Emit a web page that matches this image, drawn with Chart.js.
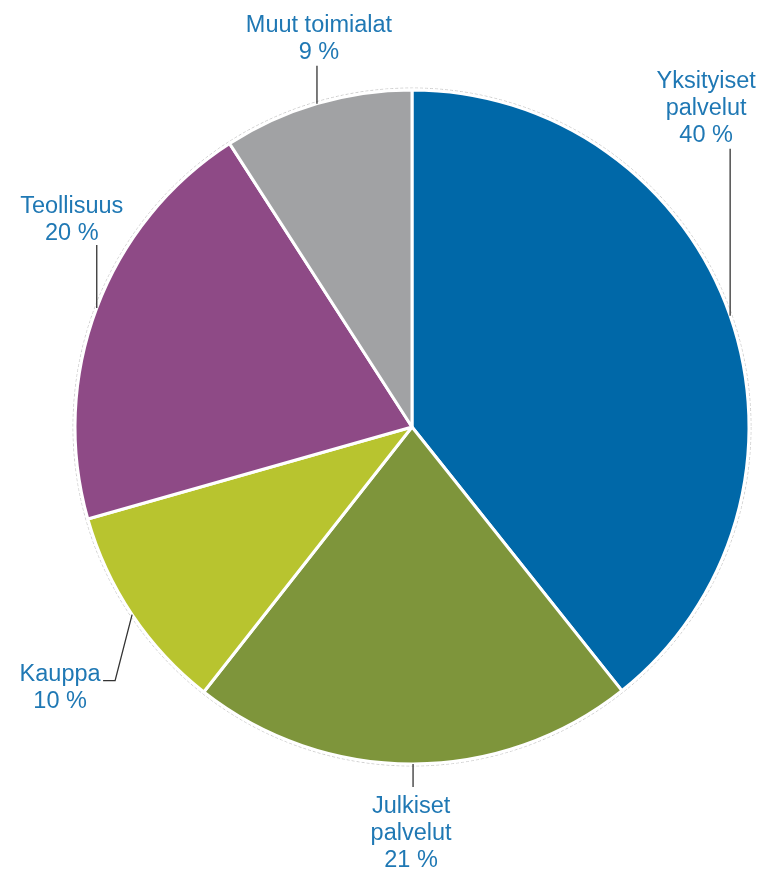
<!DOCTYPE html>
<html>
<head>
<meta charset="utf-8">
<script src="https://cdn.jsdelivr.net/npm/chart.js@4/dist/chart.umd.min.js"></script>
<style>
  html, body { margin: 0; padding: 0; background: #fff; }
  #wrap { width: 761px; height: 873px; position: relative; }
</style>
</head>
<body>
<div id="wrap"><canvas id="chart"></canvas></div>
<script>
const categories = [
  ["Yksityiset", "palvelut"],
  ["Julkiset", "palvelut"],
  ["Kauppa"],
  ["Teollisuus"],
  ["Muut toimialat"],
];
const shares = [39.3, 21.3, 10.0, 20.3, 9.1];
const shareLabels = ["40 %", "21 %", "10 %", "20 %", "9 %"];
const sliceColors = ["#0068a8", "#7e953b", "#b8c42f", "#8e4a86", "#a1a2a4"];

// where each label sits relative to the point on the rim at the slice's mid-angle
const labelLayout = [
  { leader: [[0, -167]], text: [-24, -234] },
  { leader: [[0, 23]], text: [-2, 43] },
  { leader: [[-17, 66], [-29, 66]], text: [-72, 60] },
  { leader: [[0, -63]], text: [-25, -101] },
  { leader: [[0, -38]], text: [2, -78] },
];

const labelColor = "#1f78b4";
const lineHeight = 27;

const pieLabels = {
  id: "pieLabels",
  beforeDatasetsDraw(chart) {
    const arc = chart.getDatasetMeta(0).data[0];
    if (!arc) return;
    const ctx = chart.ctx;
    ctx.save();
    ctx.strokeStyle = "#cfcfcf";
    ctx.lineWidth = 1;
    ctx.setLineDash([3, 2]);
    ctx.beginPath();
    ctx.arc(arc.x, arc.y, arc.outerRadius + 2, 0, Math.PI * 2);
    ctx.stroke();
    ctx.restore();
  },
  afterDatasetsDraw(chart) {
    const ctx = chart.ctx;
    const meta = chart.getDatasetMeta(0);
    ctx.save();
    meta.data.forEach((arc, i) => {
      const mid = (arc.startAngle + arc.endAngle) / 2;
      const ax = arc.x + Math.cos(mid) * arc.outerRadius;
      const ay = arc.y + Math.sin(mid) * arc.outerRadius;
      const lay = labelLayout[i];

      ctx.strokeStyle = "#333";
      ctx.lineWidth = 1.3;
      ctx.beginPath();
      ctx.moveTo(ax, ay);
      lay.leader.forEach(([dx, dy]) => ctx.lineTo(ax + dx, ay + dy));
      ctx.stroke();

      const lines = [...categories[i], shareLabels[i]];
      ctx.fillStyle = labelColor;
      ctx.font = "23.5px 'Liberation Sans', Arial, sans-serif";
      ctx.textAlign = "center";
      ctx.textBaseline = "middle";
      lines.forEach((t, k) => {
        ctx.fillText(t, ax + lay.text[0], ay + lay.text[1] + k * lineHeight);
      });
    });
    ctx.restore();
  },
};

new Chart(document.getElementById("chart"), {
  type: "pie",
  data: {
    labels: categories.map((c) => c.join(" ")),
    datasets: [
      {
        data: shares,
        backgroundColor: sliceColors,
        borderColor: "#ffffff",
        borderWidth: 3,
      },
    ],
  },
  options: {
    responsive: true,
    maintainAspectRatio: false,
    animation: false,
    radius: 337,
    layout: { padding: { left: 75, right: 12, top: 90, bottom: 109 } },
    plugins: {
      legend: { display: false },
      tooltip: { enabled: false },
    },
  },
  plugins: [pieLabels],
});
</script>
</body>
</html>
